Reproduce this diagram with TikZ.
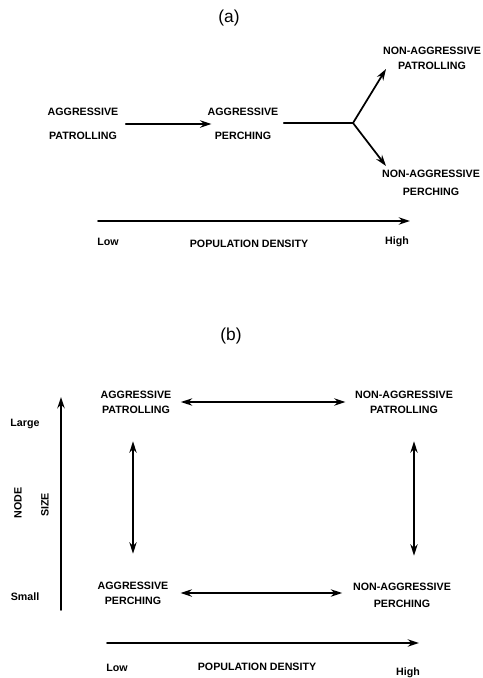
\documentclass[tikz,border=0pt]{standalone}
\usepackage{fontspec}
\setmainfont{Liberation Sans}
\usetikzlibrary{arrows.meta,positioning}

\tikzset{
  lbl/.style={font=\fontsize{8}{11}\selectfont\bfseries,align=center,inner sep=1pt},
  axlbl/.style={font=\fontsize{8}{11}\selectfont\bfseries,inner sep=1pt},
  part/.style={font=\fontsize{13}{15}\selectfont},
  arr/.style={line width=1.3pt,-{Stealth[length=8.5pt,width=5.5pt]}},
  darr/.style={line width=1.3pt,{Stealth[length=8.5pt,width=5.5pt]}-{Stealth[length=8.5pt,width=5.5pt]}}
}

\begin{document}
\begin{tikzpicture}[x=0.75pt,y=-0.75pt,line cap=round,line join=round]
  \useasboundingbox (0,0) rectangle (482,678);

  % (a) sequence with increasing density
  \node[part] (pa) at (229,18) {(a)};
  \node[lbl] (ap) at (83,124) {AGGRESSIVE\\[7pt]PATROLLING};
  \node[lbl] (aper) at (243,124) {AGGRESSIVE\\[7pt]PERCHING};
  \node[lbl] (nap) at (432,58) {NON-AGGRESSIVE\\PATROLLING};
  \node[lbl] (naper) at (431,183) {NON-AGGRESSIVE\\[2.5pt]PERCHING};
  \coordinate (j) at (353,123);
  \coordinate (tu) at (386,69);
  \coordinate (td) at (386,166);

  \draw[arr,shorten <=4.5pt,shorten >=-4pt] (ap) -- (aper);
  \draw[line width=1.3pt,shorten <=3pt] (aper.east |- j) -- (j);
  \draw[arr] (j) -- (tu);
  \draw[arr] (j) -- (td);

  \coordinate (da0) at (98,221);
  \coordinate (da1) at (410,221);
  \draw[arr] (da0) -- (da1);
  \node[axlbl] (lowa) at (108,242) {Low};
  \node[axlbl] (popa) at (249,244) {POPULATION DENSITY};
  \node[axlbl] (higha) at (397,242) {High};

  % (b) all four states
  \node[part] (pb) at (231,336) {(b)};
  \node[lbl] (bap) at (136,402) {AGGRESSIVE\\PATROLLING};
  \node[lbl] (bnap) at (404,402) {NON-AGGRESSIVE\\PATROLLING};
  \node[lbl] (bape) at (133,593) {AGGRESSIVE\\PERCHING};
  \node[lbl] (bnape) at (402,595) {NON-AGGRESSIVE\\[2pt]PERCHING};

  \draw[darr,shorten <=6pt,shorten >=6pt] (bap) -- (bap -| bnap.west);
  \draw[darr,shorten <=8pt,shorten >=7pt] (bape) -- (bape -| bnape.west);
  \draw[darr,shorten <=20pt,shorten >=20pt] (bap.south -| bape) -- (bape.north);
  \draw[darr,shorten <=20pt,shorten >=19pt] ([xshift=7.5pt]bnap.south) -- ([xshift=7.5pt]bnap.south |- bnape.north);

  \coordinate (s0) at (61,610);
  \coordinate (s1) at (61,397);
  \draw[arr] (s0) -- (s1);
  \node[axlbl] (large) at (25,424) {Large};
  \node[axlbl] (small) at (25,597) {Small};
  \node[axlbl,rotate=90] (nd) at (18,503) {NODE};
  \node[axlbl,rotate=90] (sz) at (45,505) {SIZE};

  \coordinate (db0) at (107,643);
  \coordinate (db1) at (419,643);
  \draw[arr] (db0) -- (db1);
  \node[axlbl] (lowb) at (117,668) {Low};
  \node[axlbl] (popb) at (257,667) {POPULATION DENSITY};
  \node[axlbl] (highb) at (408,673) {High};
\end{tikzpicture}
\end{document}
